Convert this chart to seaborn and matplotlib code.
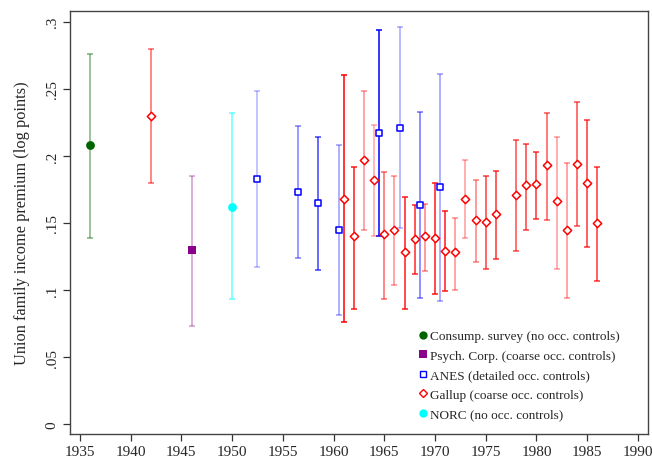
import numpy as np
import pandas as pd
import matplotlib
matplotlib.use("Agg")
import matplotlib.pyplot as plt
from matplotlib.lines import Line2D
from matplotlib.colors import to_rgba
import seaborn as sns

# Union family income premium by survey source (point estimate + CI)
cons_year = [1936]
cons_est = [0.208]
cons_lo = [0.139]
cons_hi = [0.276]
cons_alpha = [0.5]

psych_year = [1946]
psych_est = [0.130]
psych_lo = [0.073]
psych_hi = [0.185]
psych_alpha = [0.4]

anes_year = [1952.5, 1956.5, 1958.5, 1960.5, 1964.5, 1966.5, 1968.5, 1970.5]
anes_est = [0.183, 0.173, 0.165, 0.145, 0.217, 0.221, 0.163, 0.177]
anes_lo = [0.117, 0.124, 0.115, 0.081, 0.140, 0.146, 0.094, 0.092]
anes_hi = [0.248, 0.222, 0.214, 0.208, 0.294, 0.296, 0.233, 0.261]
anes_alpha = [0.3, 0.5, 0.75, 0.4, 1.0, 0.35, 0.55, 0.4]

gallup_year = [1942, 1961, 1962, 1963, 1964, 1965, 1966, 1967, 1968, 1969, 1970,
               1971, 1972, 1973, 1974, 1975, 1976, 1978, 1979, 1980, 1981, 1982,
               1983, 1984, 1985, 1986]
gallup_est = [0.230, 0.168, 0.140, 0.197, 0.182, 0.142, 0.145, 0.128, 0.138, 0.140, 0.139,
              0.129, 0.128, 0.168, 0.152, 0.151, 0.157, 0.171, 0.178, 0.179, 0.193, 0.166,
              0.145, 0.194, 0.180, 0.150]
gallup_lo = [0.180, 0.076, 0.086, 0.145, 0.140, 0.093, 0.104, 0.086, 0.112, 0.114, 0.097,
             0.099, 0.100, 0.139, 0.121, 0.116, 0.123, 0.129, 0.145, 0.153, 0.152, 0.116,
             0.094, 0.148, 0.132, 0.107]
gallup_hi = [0.280, 0.260, 0.192, 0.248, 0.223, 0.188, 0.185, 0.169, 0.163, 0.164, 0.180,
             0.159, 0.154, 0.197, 0.182, 0.185, 0.189, 0.212, 0.209, 0.203, 0.232, 0.214,
             0.195, 0.240, 0.227, 0.192]
gallup_alpha = [0.6, 1.0, 0.9, 0.45, 0.35, 0.6, 0.45, 0.9, 0.85, 0.5, 0.9,
                0.9, 0.45, 0.4, 0.5, 0.75, 0.8, 0.7, 0.75, 0.8, 0.65, 0.4,
                0.45, 0.7, 0.8, 0.8]

norc_year = [1950]
norc_est = [0.162]
norc_lo = [0.093]
norc_hi = [0.232]
norc_alpha = [0.6]

x_ticks = list(range(1935, 1995, 5))
y_ticks = [0, 0.05, 0.1, 0.15, 0.2, 0.25, 0.3]
y_tick_labels = ["0", ".05", ".1", ".15", ".2", ".25", ".3"]

series = [
    ("Consump. survey (no occ. controls)", cons_year, cons_est, cons_lo, cons_hi, cons_alpha,
     "#006400", "o", True),
    ("Psych. Corp. (coarse occ. controls)", psych_year, psych_est, psych_lo, psych_hi, psych_alpha,
     "#8b008b", "s", True),
    ("ANES (detailed occ. controls)", anes_year, anes_est, anes_lo, anes_hi, anes_alpha,
     "#0000ff", "s", False),
    ("Gallup (coarse occ. controls)", gallup_year, gallup_est, gallup_lo, gallup_hi, gallup_alpha,
     "#ff0000", "D", False),
    ("NORC (no occ. controls)", norc_year, norc_est, norc_lo, norc_hi, norc_alpha,
     "#00ffff", "o", True),
]

sns.set_theme(style="white")
plt.rcParams["font.family"] = ["Liberation Serif", "DejaVu Serif"]

fig = plt.figure(figsize=(6.52, 4.6), dpi=100)
ax = fig.add_axes([0.107, 0.054, 0.887, 0.92])

handles = []
for label, yr, est, lo, hi, alp, col, mk, filled in series:
    df = pd.DataFrame({"year": yr, "est": est, "lo": lo, "hi": hi, "alpha": alp})
    for _, r in df.iterrows():
        c = to_rgba(col, r["alpha"])
        ax.errorbar(r["year"], r["est"],
                    yerr=[[r["est"] - r["lo"]], [r["hi"] - r["est"]]],
                    fmt="none", ecolor=c, elinewidth=1.1, capsize=2.4, capthick=1.1,
                    zorder=2)
    if filled:
        ms = 40 if mk == "o" else 36
        sns.scatterplot(data=df, x="year", y="est", marker=mk, color=col, s=ms,
                        linewidth=0, ax=ax, zorder=3, legend=False)
    else:
        ms = 22 if mk == "s" else 18
        ax.scatter(df["year"], df["est"], marker=mk, s=ms, facecolors="white",
                   edgecolors=col, linewidths=1.1, zorder=3)
    handles.append(Line2D([], [], linestyle="none", marker=mk, color=col,
                          markerfacecolor=col if filled else "white",
                          markeredgewidth=0 if filled else 1.0,
                          markersize=6 if filled else 4.5, label=label))

ax.set_xlim(1934.0, 1991.0)
ax.set_ylim(-0.0075, 0.308)
ax.set_xticks(x_ticks)
ax.set_xticklabels([str(t) for t in x_ticks])
ax.set_yticks(y_ticks)
ax.set_yticklabels(y_tick_labels, rotation=90, va="center")
ax.set_xlabel("")
ax.set_ylabel("Union family income premium (log points)", fontsize=11.8, labelpad=11)
ax.tick_params(axis="both", which="major", direction="out", length=5, width=0.9,
               color="#333333", labelsize=11, bottom=True, left=True, pad=3)
for s in ax.spines.values():
    s.set_color("#444444")
    s.set_linewidth(1.0)

ax.legend(handles=handles, loc="lower left", bbox_to_anchor=(0.59, 0.02),
          frameon=False, fontsize=9.5, handletextpad=0.05, handlelength=1.0,
          labelspacing=0.55, borderaxespad=0)

fig.savefig("out.png", dpi=100)
